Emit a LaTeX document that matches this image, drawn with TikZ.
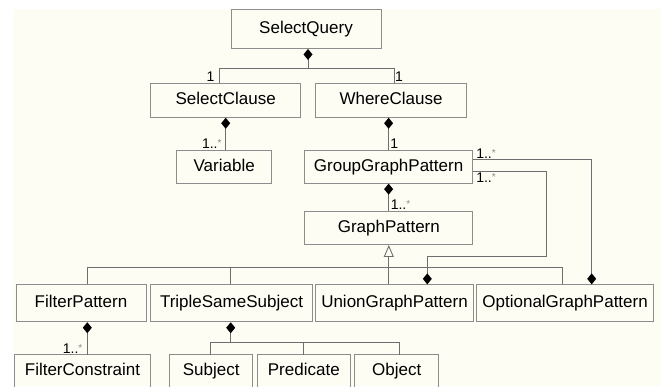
\documentclass[tikz,border=0pt]{standalone}
\usepackage{fontspec}
\setmainfont{Liberation Sans}
\usetikzlibrary{arrows.meta,calc}
\definecolor{bgc}{HTML}{FDFDF3}
\definecolor{boxc}{HTML}{8C8C8C}
\definecolor{linec}{HTML}{6E6E6E}
\definecolor{starc}{HTML}{8A8A8A}
\newcommand{\mstar}{{\color{starc}\fontsize{10}{10}\selectfont\raisebox{2pt}{*}}}
\tikzset{
  boxtext/.style={inner sep=0pt, font=\fontsize{17}{20}\selectfont, text=black,
    text height=12.3pt, text depth=3.6pt},
  box/.style={boxtext, draw=boxc, line width=0.9pt, fill=bgc},
  openbox/.style={boxtext},
  cl/.style={draw=linec, line width=1pt},
  comp/.style={{Diamond[length=11pt,width=9pt,fill=black,line width=0pt]}-},
  compend/.style={-{Diamond[length=11pt,width=9pt,fill=black,line width=0pt]}},
  inh/.style={{Triangle[open,length=12pt,width=10pt,fill=bgc,line width=0.9pt]}-},
  lab/.style={inner sep=1pt, font=\fontsize{14}{14}\selectfont, text=black}
}
\begin{document}
\begin{tikzpicture}[x=1pt,y=-1pt]
\useasboundingbox (0,0) rectangle (661,386);
\clip (0,0) rectangle (661,386);
\fill[white] (0,0) rectangle (661,386);
\fill[bgc] (14,9) rectangle (661,386);

% boxes
\node[box, minimum width=150pt, minimum height=39pt] (sq) at (306,29) {SelectQuery};
\node[box, minimum width=150pt, minimum height=34pt] (sc) at (225.7,100.3) {SelectClause};
\node[box, minimum width=151pt, minimum height=34pt] (wc) at (391,100.3) {WhereClause};
\node[box, minimum width=95pt, minimum height=33pt] (var) at (224.2,166.7) {Variable};
\node[box, minimum width=168pt, minimum height=33pt] (ggp) at (388.6,166.7) {GroupGraphPattern};
\node[box, minimum width=168pt, minimum height=33pt] (gp) at (388.8,228) {GraphPattern};
\node[box, minimum width=130pt, minimum height=37pt] (fp) at (81,303.3) {FilterPattern};
\node[box, minimum width=161.6pt, minimum height=37pt] (tss) at (231.5,303.3) {TripleSameSubject};
\node[box, minimum width=157.6pt, minimum height=37pt] (ugp) at (394.5,303.3) {UnionGraphPattern};
\node[box, minimum width=177pt, minimum height=37pt] (ogp) at (565.1,303.3) {OptionalGraphPattern};

% bottom row, cut off by the lower edge
\node[openbox, minimum width=135pt, minimum height=33pt] (fc) at (82.5,371.5) {FilterConstraint};
\node[openbox, minimum width=82.3pt, minimum height=33pt] (subj) at (211.2,371.5) {Subject};
\node[openbox, minimum width=92.3pt, minimum height=33pt] (pred) at (303.8,371.5) {Predicate};
\node[openbox, minimum width=83.3pt, minimum height=33pt] (obj) at (396.7,371.5) {Object};
\foreach \n in {fc,subj,pred,obj}{
  \draw[draw=boxc, line width=0.9pt] ([yshift=-12pt]\n.south west) -- (\n.north west) -- (\n.north east) -- ([yshift=-12pt]\n.south east);
}

% SelectQuery -> SelectClause / WhereClause
\coordinate (j1) at ($(sq.south)+(2,20)$);
\draw[cl, comp] ([xshift=2pt]sq.south) -- (j1);
\draw[cl] (j1) -| ([xshift=-6.7pt]sc.north);
\draw[cl] (j1) -| ([xshift=3.3pt]wc.north);
\node[lab, anchor=south east] at ([xshift=-10pt]sc.north) {1};
\node[lab, anchor=south west] at ([xshift=3pt]wc.north) {1};

% SelectClause -> Variable
\draw[cl, comp] (sc.south) -- (sc.south |- var.north);
\node[lab, anchor=south east] at ([xshift=-3pt]sc.south |- var.north) {1..\mstar};

% WhereClause -> GroupGraphPattern
\draw[cl, comp] (wc.south -| ggp.north) -- (ggp.north);
\node[lab, anchor=south west] at ([xshift=0.5pt]ggp.north) {1};

% GroupGraphPattern -> GraphPattern
\draw[cl, comp] (ggp.south) -- (ggp.south |- gp.north);
\node[lab, anchor=south west] at ([xshift=1pt]ggp.south |- gp.north) {1..\mstar};

% GroupGraphPattern -> OptionalGraphPattern
\draw[cl, compend] ([yshift=7.4pt]ggp.east) -| ([xshift=26.6pt]ogp.north);
\node[lab, anchor=south west] at ([xshift=2pt,yshift=7.4pt]ggp.east) {1..\mstar};

% GroupGraphPattern -> UnionGraphPattern
\coordinate (uturn) at (546,256);
\draw[cl, compend] ([yshift=-5pt]ggp.east) -| (uturn) -| ([xshift=32.8pt]ugp.north);
\node[lab, anchor=north west] at ([xshift=2pt,yshift=-5pt]ggp.east) {1..\mstar};

% inheritance
\coordinate (bus) at (0,267);
\draw[cl, inh] (gp.south) -- (gp.south |- ugp.north);
\draw[cl] ([xshift=6.3pt]fp.north) |- ([xshift=-3pt]ogp.north |- bus) -- ([xshift=-3pt]ogp.north);
\draw[cl] ([xshift=-0.8pt]tss.north) -- ([xshift=-0.8pt]tss.north |- bus);

% FilterPattern -> FilterConstraint
\draw[cl, comp] ([xshift=6.3pt]fp.south) -- ([xshift=6.3pt]fp.south |- fc.north);
\node[lab, anchor=south east] at ([xshift=2.5pt]fp.south |- fc.north) {1..\mstar};

% TripleSameSubject -> Subject / Predicate / Object
\coordinate (tb) at (0,342.7);
\draw[cl, comp] ([xshift=-0.8pt]tss.south) -- ([xshift=-0.8pt]tss.south |- tb);
\draw[cl] ([xshift=-1.2pt]subj.north) |- ([xshift=2.3pt]obj.north |- tb) -- ([xshift=2.3pt]obj.north);
\draw[cl] (pred.north) -- (pred.north |- tb);
\end{tikzpicture}
\end{document}
